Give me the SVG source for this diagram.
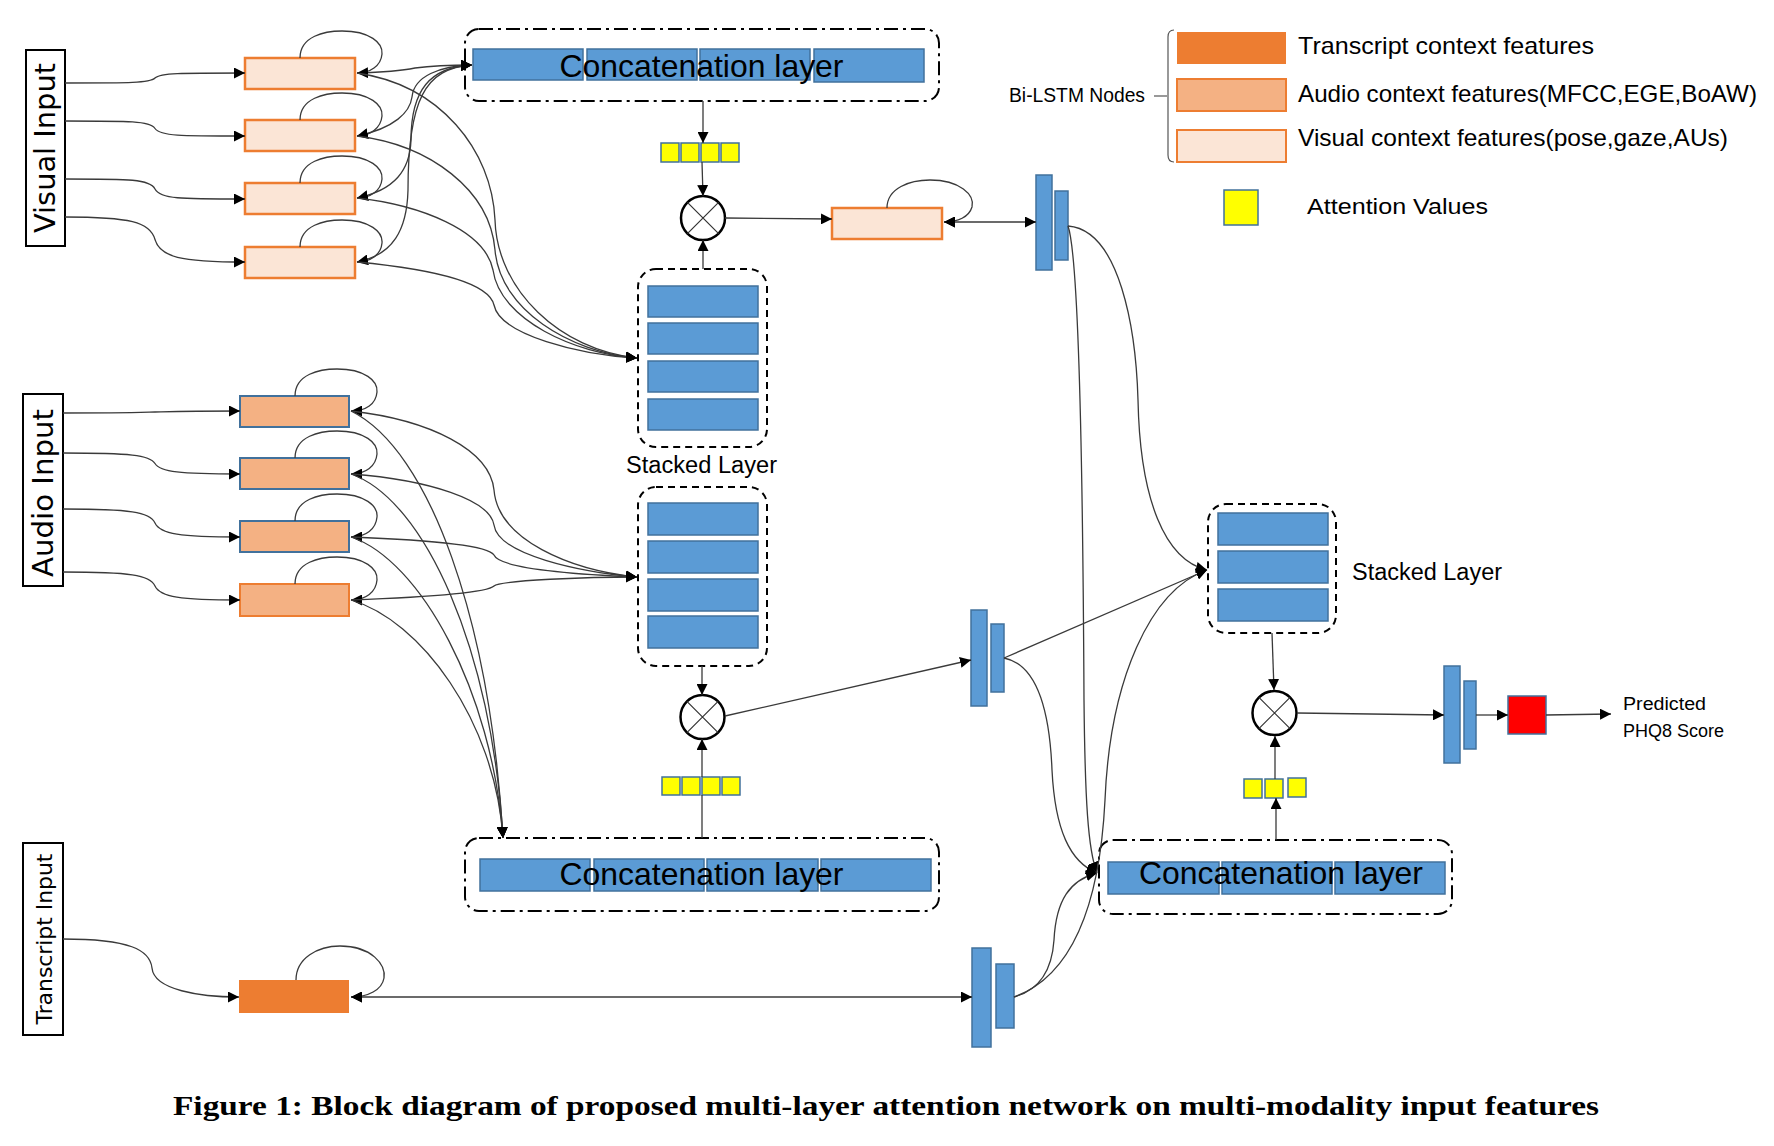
<svg xmlns="http://www.w3.org/2000/svg" width="1774" height="1146" viewBox="0 0 1774 1146">
<style>
.bl{fill:#5B9BD5;stroke:#41719C;stroke-width:1.5}
.vis{fill:#FBE5D6;stroke:#ED7D31;stroke-width:2.5}
.aud{fill:#F4B183;stroke:#41719C;stroke-width:2}
.att{fill:#FFFF00;stroke:#41719C;stroke-width:1.5}
.dd{fill:none;stroke:#000;stroke-width:2;stroke-dasharray:14 5 3 5}
.ds{fill:none;stroke:#000;stroke-width:2;stroke-dasharray:7 5}
.ib{fill:#fff;stroke:#000;stroke-width:2}
.c{fill:none;stroke:#3a3a3a;stroke-width:1.3}
.mul{fill:#fff;stroke:#000;stroke-width:2.5}
.mx{stroke:#333;stroke-width:1.2}
.t{font-family:"Liberation Sans",Arial,sans-serif;fill:#000}
.it{font-family:"DejaVu Sans",Verdana,sans-serif;fill:#000}
</style>
<defs>
<marker id="ah" viewBox="0 0 10 10" refX="10" refY="5" markerWidth="11" markerHeight="11" markerUnits="userSpaceOnUse" orient="auto-start-reverse"><path d="M0,0 L10,5 L0,10 z" fill="#000"/></marker>
</defs>
<rect width="1774" height="1146" fill="#fff"/>

<!-- input boxes -->
<g id="visual-input"><rect class="ib" x="26" y="50" width="39" height="196"/><text class="it" x="55" y="148" font-size="29" text-anchor="middle" textLength="170" lengthAdjust="spacingAndGlyphs" transform="rotate(-90 55 148)">Visual Input</text></g>
<g id="audio-input"><rect class="ib" x="23" y="394" width="40" height="192"/><text class="it" x="53" y="493" font-size="29" text-anchor="middle" textLength="168" lengthAdjust="spacingAndGlyphs" transform="rotate(-90 53 493)">Audio Input</text></g>
<g id="transcript-input"><rect class="ib" x="23" y="843" width="40" height="192"/><text class="it" x="52" y="939" font-size="22" text-anchor="middle" textLength="171" lengthAdjust="spacing" transform="rotate(-90 52 939)">Transcript Input</text></g>

<!-- visual nodes -->
<g id="v1"><rect class="vis" x="245" y="58" width="110" height="31"/></g>
<g id="v2"><rect class="vis" x="245" y="120" width="110" height="31"/></g>
<g id="v3"><rect class="vis" x="245" y="183" width="110" height="31"/></g>
<g id="v4"><rect class="vis" x="245" y="247" width="110" height="31"/></g>
<!-- audio nodes -->
<g id="a1"><rect class="aud" x="240" y="396" width="109" height="31"/></g>
<g id="a2"><rect class="aud" x="240" y="458" width="109" height="31"/></g>
<g id="a3"><rect class="aud" x="240" y="521" width="109" height="31"/></g>
<g id="a4"><rect class="aud" x="240" y="584" width="109" height="32" style="stroke:#ED7D31"/></g>
<!-- transcript node -->
<g id="t1"><rect x="239" y="980" width="110" height="33" fill="#ED7D31"/></g>

<!-- top concatenation -->
<g id="concat-top">
<rect class="dd" x="465" y="29" width="474" height="72" rx="14"/>
<rect class="bl" x="473" y="49" width="110" height="31"/><rect class="bl" x="587" y="49" width="110" height="31"/><rect class="bl" x="700" y="49" width="110" height="31"/><rect class="bl" x="814" y="49" width="110" height="33"/>
<text class="t" x="701.5" y="77" font-size="32" text-anchor="middle" textLength="284" lengthAdjust="spacingAndGlyphs">Concatenation layer</text>
</g>
<g id="att-top"><rect class="att" x="661" y="143" width="18" height="19"/><rect class="att" x="681" y="143" width="18" height="19"/><rect class="att" x="701" y="143" width="18" height="19"/><rect class="att" x="721" y="143" width="18" height="19"/></g>
<g id="mul-top"><circle class="mul" cx="703" cy="218" r="22"/><path class="mx" d="M687.4,202.4 L718.6,233.6 M718.6,202.4 L687.4,233.6"/></g>
<g id="va-node"><rect class="vis" x="832" y="208" width="110" height="31"/></g>
<g id="bilstm-top"><rect class="bl" x="1036" y="175" width="16" height="95"/><rect class="bl" x="1055" y="191" width="13" height="69"/></g>

<!-- stacked visual -->
<g id="stack-visual">
<rect class="ds" x="638" y="269" width="129" height="178" rx="18"/>
<rect class="bl" x="648" y="286" width="110" height="31"/><rect class="bl" x="648" y="323" width="110" height="31"/><rect class="bl" x="648" y="361" width="110" height="31"/><rect class="bl" x="648" y="399" width="110" height="31"/>
</g>
<text class="t" x="701.5" y="473" font-size="23" text-anchor="middle" textLength="151" lengthAdjust="spacingAndGlyphs">Stacked Layer</text>
<!-- stacked audio -->
<g id="stack-audio">
<rect class="ds" x="638" y="487" width="129" height="179" rx="18"/>
<rect class="bl" x="648" y="503" width="110" height="32"/><rect class="bl" x="648" y="541" width="110" height="32"/><rect class="bl" x="648" y="579" width="110" height="32"/><rect class="bl" x="648" y="616" width="110" height="32"/>
</g>
<g id="mul-mid"><circle class="mul" cx="702.5" cy="717" r="22"/><path class="mx" d="M686.9,701.4 L718.1,732.6 M718.1,701.4 L686.9,732.6"/></g>
<g id="att-mid"><rect class="att" x="662" y="777" width="18" height="18"/><rect class="att" x="682" y="777" width="18" height="18"/><rect class="att" x="702" y="777" width="18" height="18"/><rect class="att" x="722" y="777" width="18" height="18"/></g>
<g id="concat-bottom">
<rect class="dd" x="465" y="838" width="474" height="73" rx="14"/>
<rect class="bl" x="480" y="859" width="110" height="32"/><rect class="bl" x="594" y="859" width="110" height="32"/><rect class="bl" x="707" y="859" width="111" height="32"/><rect class="bl" x="821" y="859" width="110" height="32"/>
<text class="t" x="701.5" y="885" font-size="32" text-anchor="middle" textLength="284" lengthAdjust="spacingAndGlyphs">Concatenation layer</text>
</g>
<g id="bilstm-mid"><rect class="bl" x="971" y="610" width="16" height="96"/><rect class="bl" x="991" y="624" width="13" height="68"/></g>
<g id="bilstm-bottom"><rect class="bl" x="972" y="948" width="19" height="99"/><rect class="bl" x="996" y="964" width="18" height="64"/></g>

<!-- right side -->
<g id="stack-right">
<rect class="ds" x="1208" y="504" width="128" height="129" rx="18"/>
<rect class="bl" x="1218" y="513" width="110" height="32"/><rect class="bl" x="1218" y="551" width="110" height="32"/><rect class="bl" x="1218" y="589" width="110" height="32"/>
</g>
<text class="t" x="1352" y="580" font-size="23" textLength="150" lengthAdjust="spacingAndGlyphs">Stacked Layer</text>
<g id="mul-right"><circle class="mul" cx="1274.5" cy="713" r="22"/><path class="mx" d="M1258.9,697.4 L1290.1,728.6 M1290.1,697.4 L1258.9,728.6"/></g>
<g id="att-right"><rect class="att" x="1244" y="779" width="18" height="19"/><rect class="att" x="1265" y="779" width="18" height="19"/><rect class="att" x="1288" y="778" width="18" height="19"/></g>
<g id="concat-right">
<rect class="dd" x="1099" y="840" width="353" height="74" rx="14"/>
<rect class="bl" x="1108" y="862" width="111" height="32"/><rect class="bl" x="1222" y="862" width="110" height="32"/><rect class="bl" x="1335" y="862" width="110" height="32"/>
<text class="t" x="1281" y="884" font-size="32" text-anchor="middle" textLength="284" lengthAdjust="spacingAndGlyphs">Concatenation layer</text>
</g>
<g id="bilstm-final"><rect class="bl" x="1444" y="666" width="16" height="97"/><rect class="bl" x="1464" y="681" width="12" height="68"/></g>
<g id="output"><rect x="1508" y="696" width="38" height="38" fill="#FF0000" stroke="#41719C" stroke-width="1.5"/></g>
<g id="output-label"><text class="t" x="1623" y="710" font-size="18" textLength="83" lengthAdjust="spacingAndGlyphs">Predicted</text><text class="t" x="1623" y="737" font-size="18" textLength="101" lengthAdjust="spacingAndGlyphs">PHQ8 Score</text></g>

<!-- legend -->
<g id="legend">
<text class="t" x="1009" y="102" font-size="20" textLength="136" lengthAdjust="spacingAndGlyphs">Bi-LSTM Nodes</text>
<path d="M1154,96 L1167,96" stroke="#555" stroke-width="1.2"/>
<path d="M1174,30 Q1168,30 1168,37 L1168,155 Q1168,162 1174,162" fill="none" stroke="#555" stroke-width="1.2"/>
<rect x="1177" y="32" width="109" height="32" fill="#ED7D31"/>
<rect x="1177" y="79" width="109" height="32" fill="#F4B183" stroke="#ED7D31" stroke-width="2"/>
<rect x="1177" y="130" width="109" height="32" fill="#FBE5D6" stroke="#ED7D31" stroke-width="2"/>
<text class="t" x="1298" y="54" font-size="24" textLength="296" lengthAdjust="spacingAndGlyphs">Transcript context features</text>
<text class="t" x="1298" y="102" font-size="24" textLength="459" lengthAdjust="spacingAndGlyphs">Audio context features(MFCC,EGE,BoAW)</text>
<text class="t" x="1298" y="146" font-size="24" textLength="430" lengthAdjust="spacingAndGlyphs">Visual context features(pose,gaze,AUs)</text>
<rect class="att" x="1224" y="190" width="34" height="35"/>
<text class="t" x="1307" y="214" font-size="22" textLength="181" lengthAdjust="spacingAndGlyphs">Attention Values</text>
</g>

<!-- connectors -->
<g id="connectors">
<!-- visual inputs -->
<path class="c" marker-end="url(#ah)" d="M65,83 C130,83 150,83 155,78 C160,73 180,73 245,73"/>
<path class="c" marker-end="url(#ah)" d="M65,121 C130,121 150,121 155,128.5 C160,136 180,136 245,136"/>
<path class="c" marker-end="url(#ah)" d="M65,179 C130,179 150,179 155,189 C160,199 180,199 245,199"/>
<path class="c" marker-end="url(#ah)" d="M65,217 C130,217 150,222 155,239.5 C160,257 180,262 245,262"/>
<!-- audio inputs -->
<path class="c" marker-end="url(#ah)" d="M63,413 C130,413 150,412 155,412 C160,412 180,411 240,411"/>
<path class="c" marker-end="url(#ah)" d="M63,453 C130,453 150,455 155,463.5 C160,472 180,474 240,474"/>
<path class="c" marker-end="url(#ah)" d="M63,509 C130,509 150,512 155,523 C160,534 180,537 240,537"/>
<path class="c" marker-end="url(#ah)" d="M63,572 C130,572 150,575 155,586 C160,597 180,600 240,600"/>
<!-- transcript input -->
<path class="c" marker-end="url(#ah)" d="M63,939 C130,939 150,950 152,968 C154,990 200,997 239,997"/>
<!-- self loops -->
<path class="c" d="M300,58 C300,36 325,31 342,31 C370,31 383,43 382,54 C381,66 370,73 357,73"/>
<path class="c" d="M300,120 C300,98 325,93 342,93 C370,93 383,105 382,116 C381,128 370,136 357,136"/>
<path class="c" d="M300,183 C300,161 325,156 342,156 C370,156 383,168 382,179 C381,191 370,198 357,198"/>
<path class="c" d="M300,247 C300,225 325,220 342,220 C370,220 383,232 382,243 C381,255 370,262 357,262"/>
<path class="c" marker-end="url(#ah)" d="M295,396 C295,374 320,369 337,369 C365,369 378,381 377,392 C376,404 366,411 351,411"/>
<path class="c" marker-end="url(#ah)" d="M295,458 C295,436 320,431 337,431 C365,431 378,443 377,454 C376,466 366,474 351,474"/>
<path class="c" marker-end="url(#ah)" d="M295,521 C295,499 320,494 337,494 C365,494 378,506 377,517 C376,529 366,537 351,537"/>
<path class="c" marker-end="url(#ah)" d="M295,584 C295,562 320,557 337,557 C365,557 378,569 377,580 C376,592 366,600 351,600"/>
<path class="c" marker-end="url(#ah)" d="M296,980 C296,958 318,946 340,946 C372,946 386,965 384,978 C382,990 368,997 351,997"/>
<path class="c" marker-end="url(#ah)" d="M887,208 C887,188 910,180 930,180 C960,180 975,195 972,207 C969,217 958,222 944,222"/>
<!-- visual nodes <-> top concat -->
<path class="c" marker-start="url(#ah)" marker-end="url(#ah)" d="M357,73 C390,72 405,70 415,68 C430,66 450,65 472,65"/>
<path class="c" marker-start="url(#ah)" marker-end="url(#ah)" d="M357,136 C395,128 410,112 412,97 C414,76 440,66 472,65"/>
<path class="c" marker-start="url(#ah)" marker-end="url(#ah)" d="M357,198 C395,190 410,170 411,140 C411,90 430,67 472,65"/>
<path class="c" marker-start="url(#ah)" marker-end="url(#ah)" d="M357,262 C393,255 407,230 408,190 C408,100 425,68 472,65"/>
<!-- visual nodes -> stacked -->
<path class="c" marker-end="url(#ah)" d="M357,73 C440,85 492,150 495,220 C497,290 560,350 637,358"/>
<path class="c" marker-end="url(#ah)" d="M357,136 C430,145 490,190 495,250 C500,310 570,352 637,358"/>
<path class="c" marker-end="url(#ah)" d="M357,198 C420,205 485,230 493,270 C500,320 575,354 637,358"/>
<path class="c" marker-end="url(#ah)" d="M357,262 C420,268 488,280 494,305 C500,335 580,355 637,358"/>
<!-- audio nodes -> stacked -->
<path class="c" marker-end="url(#ah)" d="M351,411 C430,420 490,450 494,490 C498,540 570,570 637,577"/>
<path class="c" marker-end="url(#ah)" d="M351,474 C430,480 490,500 494,525 C498,555 580,572 637,577"/>
<path class="c" marker-end="url(#ah)" d="M351,537 C430,540 488,545 494,555 C500,570 590,575 637,577"/>
<path class="c" marker-end="url(#ah)" d="M351,600 C430,597 488,592 494,586 C500,580 590,577 637,577"/>
<!-- audio nodes -> bottom concat -->
<path class="c" marker-end="url(#ah)" d="M351,411 C430,450 490,620 503,838"/>
<path class="c" marker-end="url(#ah)" d="M351,474 C425,500 492,650 503,838"/>
<path class="c" marker-end="url(#ah)" d="M351,537 C420,560 492,690 503,838"/>
<path class="c" marker-end="url(#ah)" d="M351,600 C420,620 495,720 503,838"/>
<!-- top column -->
<path class="c" marker-end="url(#ah)" d="M703,101 L703,143"/>
<path class="c" marker-end="url(#ah)" d="M702,162 L703,196"/>
<path class="c" marker-end="url(#ah)" d="M703,269 L703,240"/>
<path class="c" marker-end="url(#ah)" d="M725,218 L832,219"/>
<path class="c" marker-start="url(#ah)" marker-end="url(#ah)" d="M944,222 L1036,222"/>
<!-- middle column -->
<path class="c" marker-end="url(#ah)" d="M702,666 L702,695"/>
<path class="c" marker-end="url(#ah)" d="M702,777 L702,739"/>
<path class="c" d="M702,838 L702,795"/>
<path class="c" marker-end="url(#ah)" d="M725,716 L971,660"/>
<!-- transcript -> bottom bilstm -->
<path class="c" marker-start="url(#ah)" marker-end="url(#ah)" d="M351,997 L972,997"/>
<!-- bilstm outputs -->
<path class="c" marker-end="url(#ah)" d="M1068,226 C1120,230 1136,330 1138,400 C1140,500 1165,560 1207,570"/>
<path class="c" marker-end="url(#ah)" d="M1068,226 C1080,260 1083,500 1084,700 C1085,800 1088,850 1097,873"/>
<path class="c" marker-end="url(#ah)" d="M1004,658 L1207,570"/>
<path class="c" marker-end="url(#ah)" d="M1004,658 C1040,665 1050,720 1052,770 C1055,830 1070,862 1097,873"/>
<path class="c" marker-end="url(#ah)" d="M1014,997 C1040,990 1052,970 1054,940 C1056,900 1070,880 1097,873"/>
<path class="c" marker-end="url(#ah)" d="M1014,997 C1075,975 1100,900 1105,800 C1110,680 1150,590 1207,570"/>
<!-- right column -->
<path class="c" marker-end="url(#ah)" d="M1272,633 L1274,690"/>
<path class="c" marker-end="url(#ah)" d="M1275,779 L1275,736"/>
<path class="c" marker-end="url(#ah)" d="M1276,840 L1276,798"/>
<path class="c" marker-end="url(#ah)" d="M1297,713 L1444,715"/>
<path class="c" marker-end="url(#ah)" d="M1476,715 L1508,715"/>
<path class="c" marker-end="url(#ah)" d="M1546,715 L1611,714"/>
</g>

<text x="173" y="1115" font-family="Liberation Serif, Times New Roman, serif" font-weight="bold" font-size="28" textLength="1426" lengthAdjust="spacingAndGlyphs">Figure 1: Block diagram of proposed multi-layer attention network on multi-modality input features</text>
</svg>
